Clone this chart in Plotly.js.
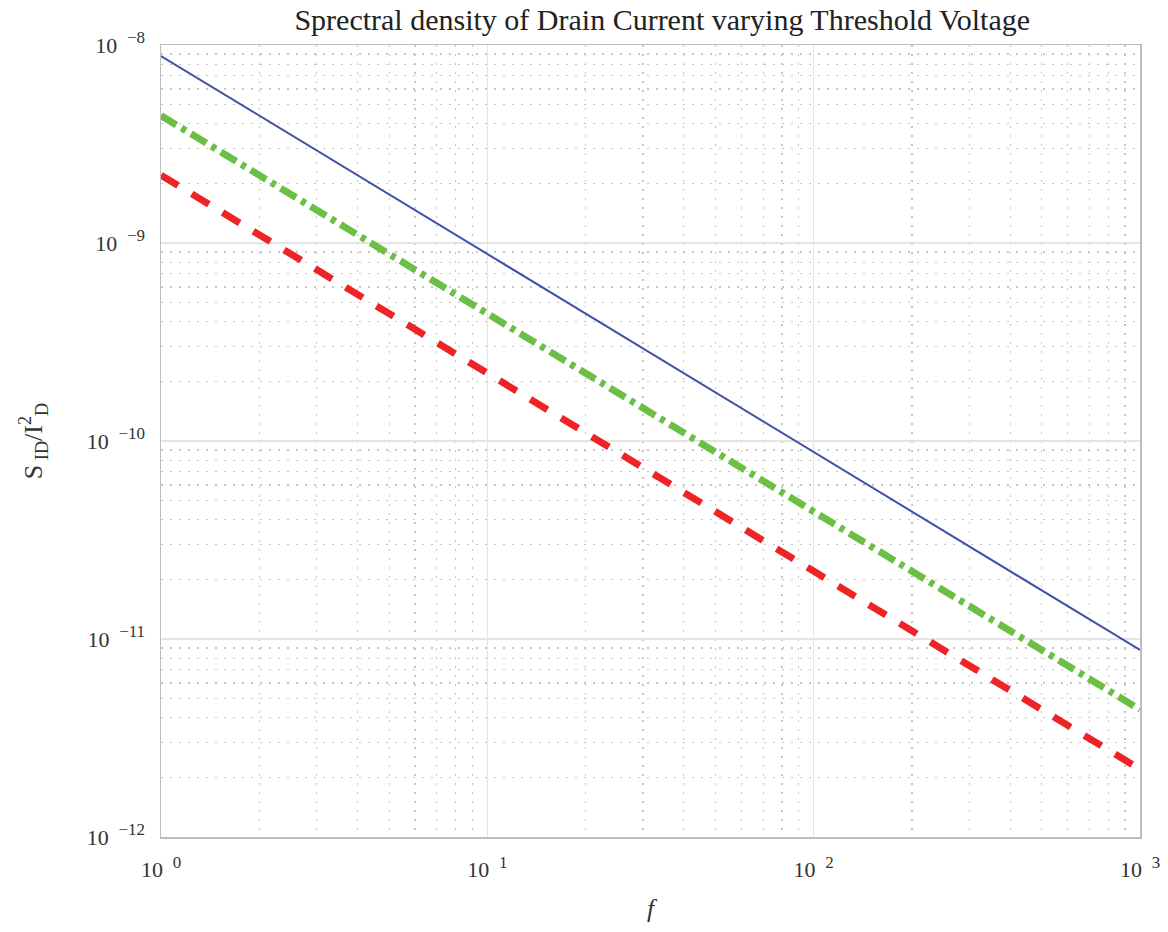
<!DOCTYPE html>
<html>
<head>
<meta charset="utf-8">
<script src="https://cdn.plot.ly/plotly-3.0.1.min.js"></script>
<style>html,body{margin:0;padding:0;background:#fff;}#chart{width:1168px;height:932px;}</style>
</head>
<body>
<div id="chart"></div>
<script>
// Data (frequency vs normalized spectral density)
const freq = [1, 10, 100, 1000];
const seriesBlue  = [8.8e-9, 8.8e-10, 8.8e-11, 8.8e-12];
const seriesGreen = [4.4e-9, 4.4e-10, 4.4e-11, 4.4e-12];
const seriesRed   = [2.2e-9, 2.2e-10, 2.2e-11, 2.2e-12];
const xTickVals = [1, 10, 100, 1000];
const xExponents = ['0', '1', '2', '3'];
const yTickVals = [1e-12, 1e-11, 1e-10, 1e-9, 1e-8];
const yExponents = ['\u221212', '\u221211', '\u221210', '\u22129', '\u22128'];

const sup = e => '10 <sup><span style="font-size:17px"> ' + e + '</span></sup>';
const xTickText = xExponents.map(sup);
const yTickText = yExponents.map(sup);

const font = 'Liberation Serif, DejaVu Serif, serif';

const traces = [
  {x: freq, y: seriesBlue, mode: 'lines', line: {color: '#3f51a6', width: 2}, showlegend: false},
  {x: freq, y: seriesGreen, mode: 'lines', line: {color: '#6cbf45', width: 7, dash: '18px,6px,5px,6px'}, showlegend: false},
  {x: freq, y: seriesRed, mode: 'lines', line: {color: '#ee2326', width: 7, dash: '20px,16px'}, showlegend: false}
];

const axisCommon = {
  showline: true, mirror: true, linecolor: '#bdbdbd', linewidth: 1.5,
  showgrid: true, gridcolor: '#e4e4e4', gridwidth: 1.5,
  zeroline: false, ticks: '',
  tickfont: {family: font, size: 22, color: '#333'},
  minor: {dtick: 'D1', showgrid: true, griddash: '2px,7px', gridcolor: '#c6c6c6', gridwidth: 1.2, ticks: ''}
};

const layout = {
  width: 1168, height: 932,
  margin: {l: 161, r: 28, t: 45, b: 95},
  paper_bgcolor: '#fff', plot_bgcolor: '#fff',
  title: {text: 'Sprectral density of Drain Current varying Threshold Voltage', font: {family: font, size: 30, color: '#222'}, x: 0.512, xref: 'paper', xanchor: 'center', y: 0.979, yanchor: 'middle'},
  xaxis: Object.assign({}, axisCommon, {
    type: 'log', range: [0, 3], tickvals: xTickVals, ticktext: xTickText,
    ticklabelstandoff: 12,
    title: {text: '<i>f</i>', font: {family: font, size: 26, color: '#333'}, standoff: 18}
  }),
  yaxis: Object.assign({}, axisCommon, {
    type: 'log', range: [-12, -8], tickvals: yTickVals, ticktext: yTickText,
    ticklabelstandoff: 10,
    title: {text: 'S<sub> ID</sub>/I<sup>2</sup><sub>D</sub>', font: {family: font, size: 26, color: '#333'}, standoff: 36}
  })
};

Plotly.newPlot('chart', traces, layout, {displayModeBar: false, staticPlot: true});
</script>
</body>
</html>
